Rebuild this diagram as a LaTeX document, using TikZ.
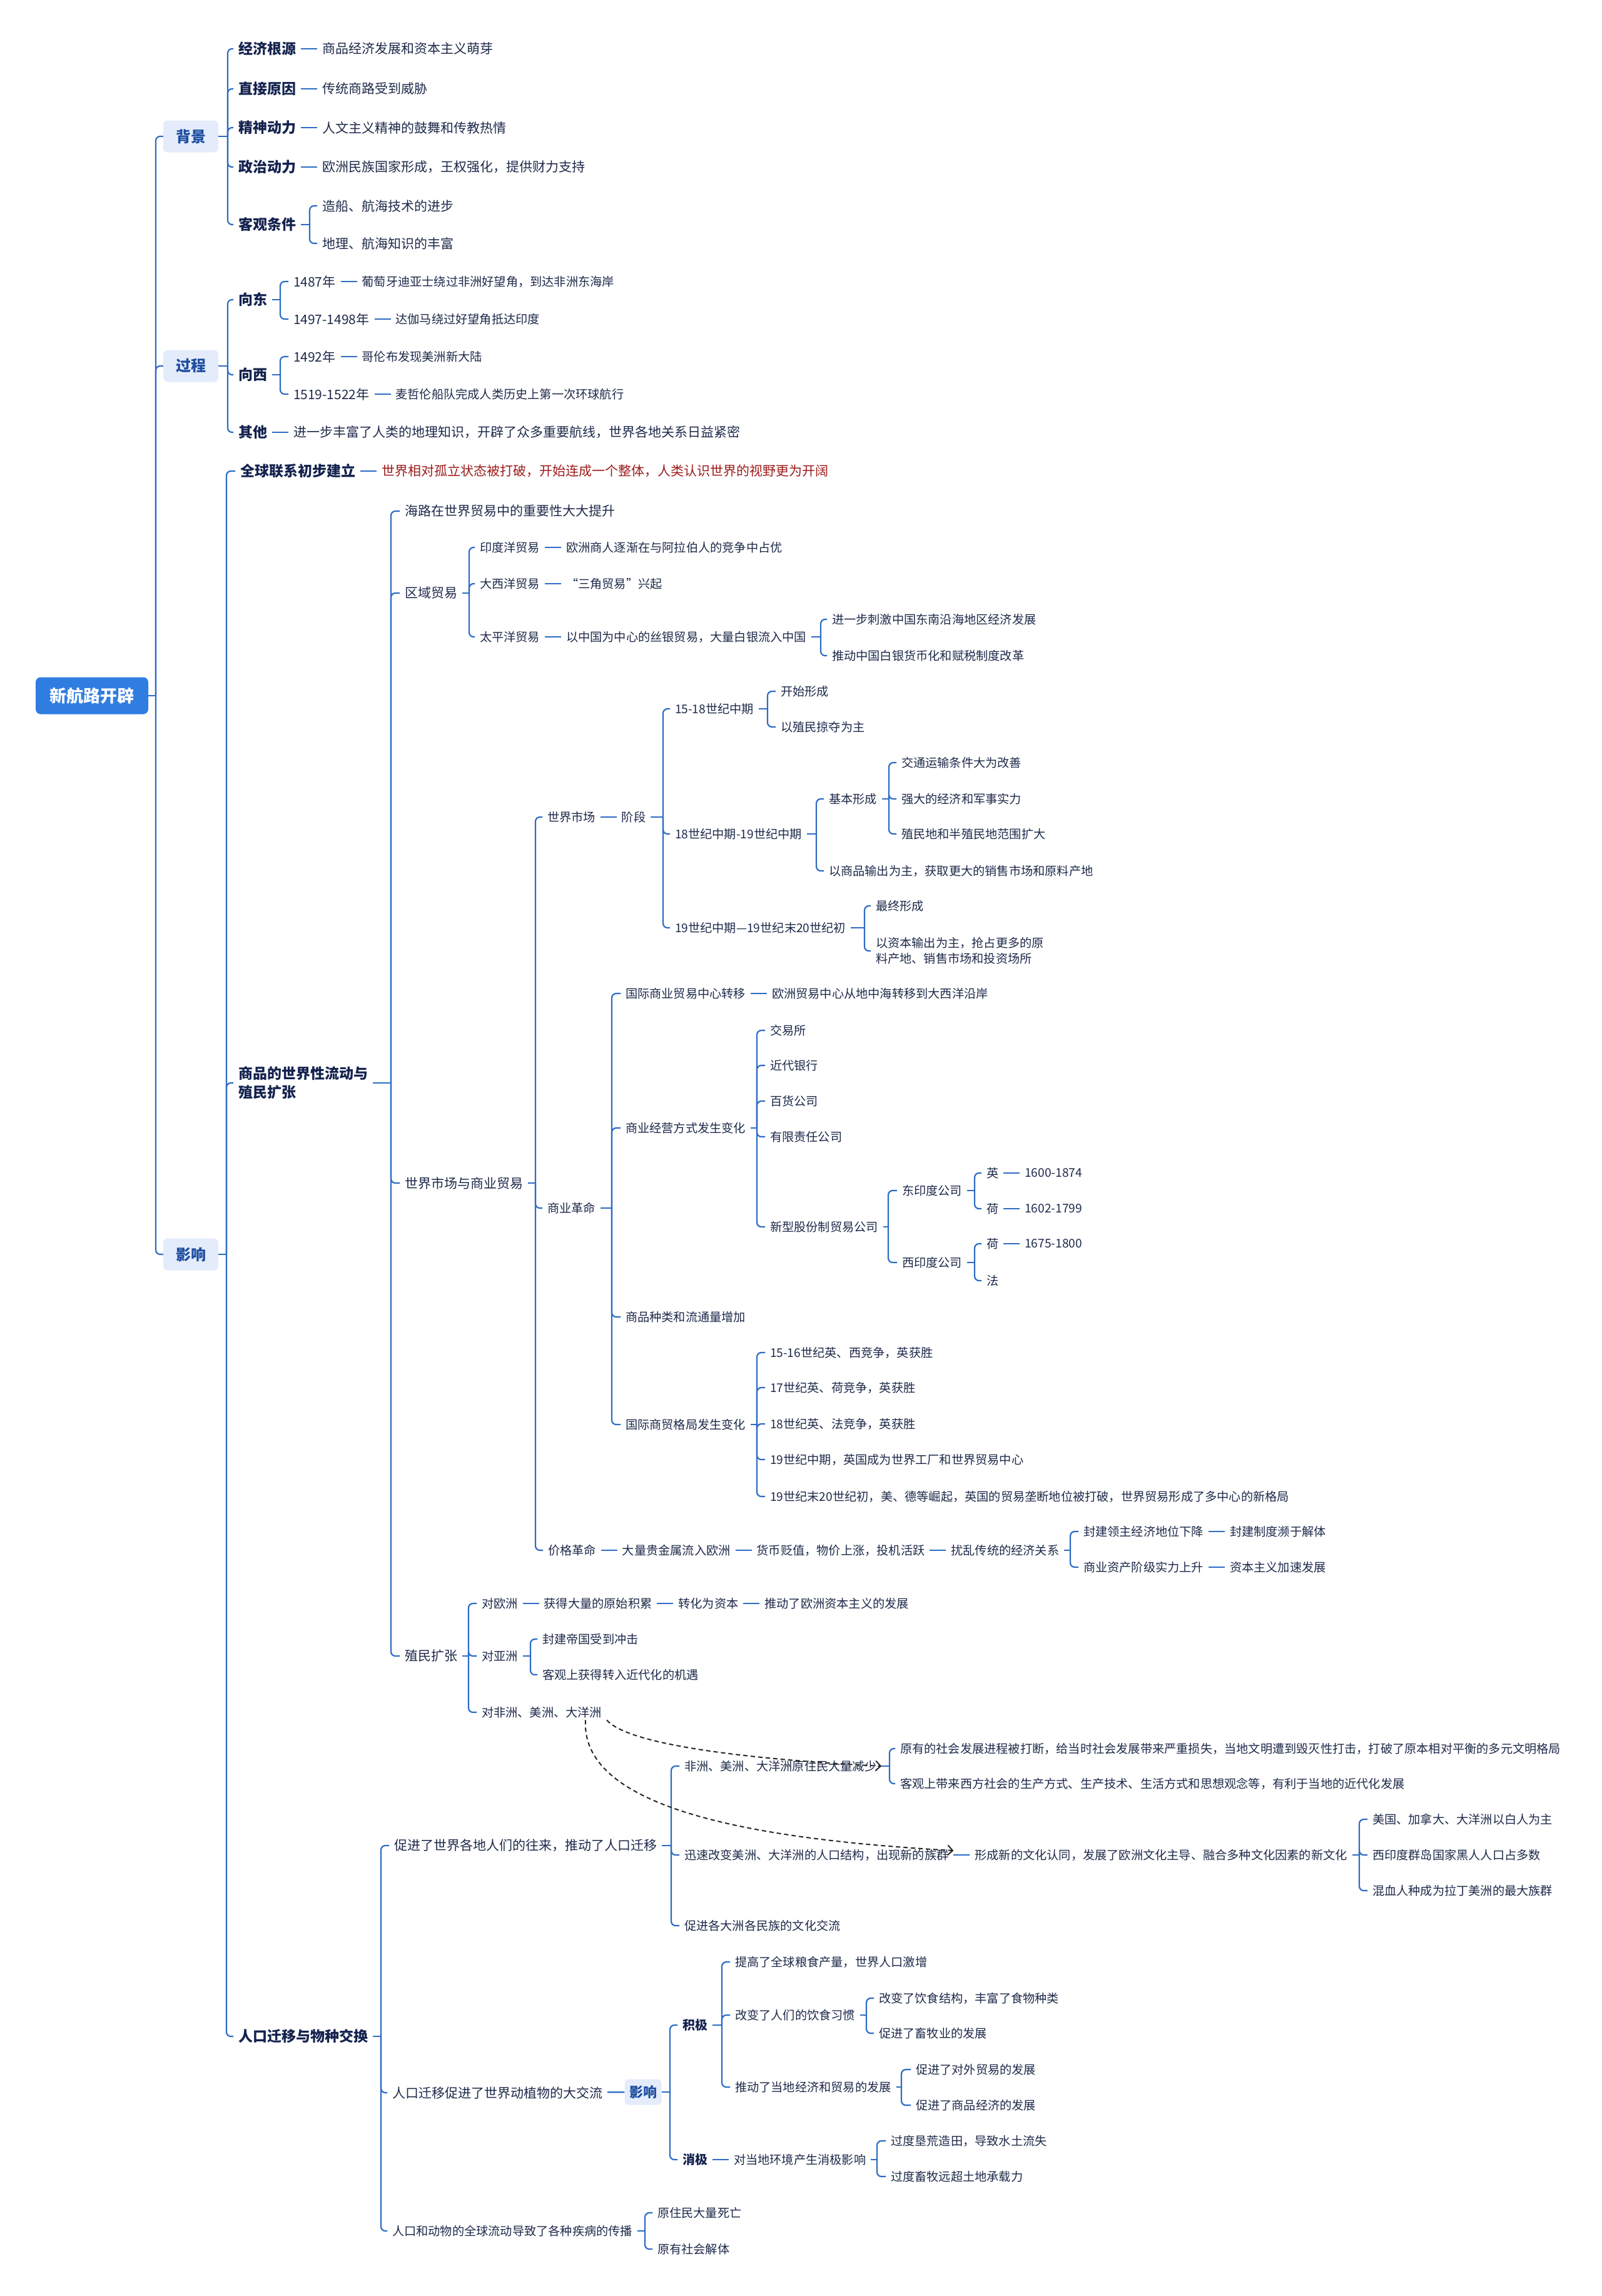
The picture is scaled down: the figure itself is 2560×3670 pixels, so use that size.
\documentclass[tikz,border=0pt]{standalone}
\usepackage{fontspec}
\setmainfont{Noto Sans CJK SC}
\usetikzlibrary{arrows.meta, positioning}
\definecolor{linkblue}{RGB}{45,108,196}
\definecolor{rootblue}{RGB}{47,125,225}
\definecolor{topicfill}{RGB}{228,236,251}
\definecolor{topictext}{RGB}{30,78,160}
\definecolor{inknavy}{RGB}{20,34,78}
\definecolor{inktext}{RGB}{30,42,74}
\definecolor{darkred}{RGB}{158,28,28}

\begin{document}
\begin{tikzpicture}[x=1pt, y=-1pt,
    root/.style={rectangle, rounded corners=8pt, fill=rootblue, text=white, font=\fontsize{27}{32}\selectfont\bfseries, minimum width=180pt, minimum height=59pt},
    topic/.style={rectangle, rounded corners=7pt, fill=topicfill, text=topictext, font=\fontsize{24}{28}\selectfont\bfseries, minimum width=88pt, minimum height=51pt},
    subtopic/.style={rectangle, rounded corners=6pt, fill=topicfill, text=topictext, font=\fontsize{22}{26}\selectfont\bfseries, minimum width=59pt, minimum height=41pt},
    major/.style={anchor=west, inner xsep=0pt, outer xsep=8pt, text=inknavy, font=\fontsize{23}{30}\selectfont\bfseries, align=left},
    pole/.style={anchor=west, inner xsep=0pt, outer xsep=8pt, text=inknavy, font=\fontsize{20}{24}\selectfont\bfseries},
    minor/.style={anchor=west, inner xsep=0pt, outer xsep=8pt, text=inktext, font=\fontsize{21}{25}\selectfont},
    leaf/.style={anchor=west, inner xsep=0pt, outer xsep=8pt, text=inktext, font=\fontsize{19.2}{25}\selectfont, align=left},
    link/.style={draw=linkblue, line width=2.2pt, rounded corners=7pt},
    crosslink/.style={dash pattern=on 7pt off 5pt, line width=2pt, draw=black!85, -{Straight Barb[length=8pt]}},
    node distance=26pt,
]
\useasboundingbox (0,0) rectangle (2560,3670);
\fill[white] (0,0) rectangle (2560,3670);

% root and first level
\node[root] (root) at (147,1112) {新航路开辟};
\node[topic] (bg) at (305,218) {背景};
\node[topic] (proc) at (305,585) {过程};
\node[topic] (eff) at (305,2005) {影响};

\coordinate (rj) at (249,1112);
\draw[link] (root) -- (rj);
\foreach \t in {bg,proc,eff} \draw[link] (rj) |- (\t.west);

% background
\node[major] (econ) at (373,78) {经济根源};
\node[minor, right=of econ] (econ1) {商品经济发展和资本主义萌芽};
\node[major] (direct) at (373,142) {直接原因};
\node[minor, right=of direct] (direct1) {传统商路受到威胁};
\node[major] (spirit) at (373,204) {精神动力};
\node[minor, right=of spirit] (spirit1) {人文主义精神的鼓舞和传教热情};
\node[major] (polit) at (373,267) {政治动力};
\node[minor, right=of polit] (polit1) {欧洲民族国家形成，王权强化，提供财力支持};
\node[major] (object) at (373,359) {客观条件};
\node[minor] (ship) at (507,329) {造船、航海技术的进步};
\node[minor] (geo) at (507,389) {地理、航海知识的丰富};

\coordinate (bgj) at (364,218);
\draw[link] (bg) -- (bgj);
\foreach \c in {econ,direct,spirit,polit,object} \draw[link] (bgj) |- (\c.west);
\foreach \a/\b in {econ/econ1,direct/direct1,spirit/spirit1,polit/polit1} \draw[link] (\a) -- (\b);
\coordinate (objj) at (495,359);
\draw[link] (object) -- (objj);
\foreach \c in {ship,geo} \draw[link] (objj) |- (\c.west);

% process
\node[major] (toeast) at (373,479) {向东};
\node[minor] (e1487) at (461,450) {1487年};
\node[leaf, right=of e1487] (e1487a) {葡萄牙迪亚士绕过非洲好望角，到达非洲东海岸};
\node[minor] (e1497) at (461,510) {1497-1498年};
\node[leaf, right=of e1497] (e1497a) {达伽马绕过好望角抵达印度};
\node[major] (towest) at (373,599) {向西};
\node[minor] (w1492) at (461,570) {1492年};
\node[leaf, right=of w1492] (w1492a) {哥伦布发现美洲新大陆};
\node[minor] (w1519) at (461,630) {1519-1522年};
\node[leaf, right=of w1519] (w1519a) {麦哲伦船队完成人类历史上第一次环球航行};
\node[major] (other) at (373,691) {其他};
\node[minor, right=of other] (other1) {进一步丰富了人类的地理知识，开辟了众多重要航线，世界各地关系日益紧密};

\coordinate (procj) at (364,585);
\draw[link] (proc) -- (procj);
\foreach \c in {toeast,towest,other} \draw[link] (procj) |- (\c.west);
\coordinate (eastj) at (448,479);
\draw[link] (toeast) -- (eastj);
\foreach \c in {e1487,e1497} \draw[link] (eastj) |- (\c.west);
\coordinate (westj) at (448,599);
\draw[link] (towest) -- (westj);
\foreach \c in {w1492,w1519} \draw[link] (westj) |- (\c.west);
\foreach \a/\b in {e1487/e1487a,e1497/e1497a,w1492/w1492a,w1519/w1519a,other/other1} \draw[link] (\a) -- (\b);

% effects
\node[major] (global) at (376,753) {全球联系初步建立};
\node[minor, text=darkred, right=of global] (global1) {世界相对孤立状态被打破，开始连成一个整体，人类认识世界的视野更为开阔};
\node[major] (goods) at (373,1731) {商品的世界性流动与\\殖民扩张};
\node[major] (migr) at (373,3255) {人口迁移与物种交换};

\coordinate (effj) at (362,2005);
\draw[link] (eff) -- (effj);
\foreach \c in {global,goods,migr} \draw[link] (effj) |- (\c.west);
\draw[link] (global) -- (global1);

% goods and colonies
\node[minor] (searoute) at (639,817) {海路在世界贸易中的重要性大大提升};
\node[minor] (region) at (639,948) {区域贸易};
\node[minor] (market) at (639,1891) {世界市场与商业贸易};
\node[minor] (colony) at (639,2647) {殖民扩张};

\coordinate (goodsj) at (625,1731);
\draw[link] (goods.east |- goodsj) -- (goodsj);
\foreach \c in {searoute,region,market,colony} \draw[link] (goodsj) |- (\c.west);

% regional trade
\node[leaf] (indian) at (759,875) {印度洋贸易};
\node[leaf, right=of indian] (indian1) {欧洲商人逐渐在与阿拉伯人的竞争中占优};
\node[leaf] (atlantic) at (759,933) {大西洋贸易};
\node[leaf, right=of atlantic] (atlantic1) {“三角贸易”兴起};
\node[leaf] (pacific) at (759,1018) {太平洋贸易};
\node[leaf, right=of pacific] (pacific1) {以中国为中心的丝银贸易，大量白银流入中国};
\node[leaf] (pacific2) at (1322,990) {进一步刺激中国东南沿海地区经济发展};
\node[leaf] (pacific3) at (1322,1048) {推动中国白银货币化和赋税制度改革};

\coordinate (regionj) at (750,948);
\draw[link] (region) -- (regionj);
\foreach \c in {indian,atlantic,pacific} \draw[link] (regionj) |- (\c.west);
\foreach \a/\b in {indian/indian1,atlantic/atlantic1,pacific/pacific1} \draw[link] (\a) -- (\b);
\coordinate (pacj) at (1312,1018);
\draw[link] (pacific1) -- (pacj);
\foreach \c in {pacific2,pacific3} \draw[link] (pacj) |- (\c.west);

% world market
\node[leaf] (wmarket) at (867,1306) {世界市场};
\node[leaf, right=of wmarket] (stage) {阶段};
\node[leaf] (st1) at (1071,1133) {15-18世纪中期};
\node[leaf] (st1a) at (1240,1105) {开始形成};
\node[leaf] (st1b) at (1240,1162) {以殖民掠夺为主};
\node[leaf] (st2) at (1071,1333) {18世纪中期-19世纪中期};
\node[leaf] (st2a) at (1317,1277) {基本形成};
\node[leaf] (st2a1) at (1433,1219) {交通运输条件大为改善};
\node[leaf] (st2a2) at (1433,1277) {强大的经济和军事实力};
\node[leaf] (st2a3) at (1433,1333) {殖民地和半殖民地范围扩大};
\node[leaf] (st2b) at (1317,1392) {以商品输出为主，获取更大的销售市场和原料产地};
\node[leaf] (st3) at (1071,1483) {19世纪中期—19世纪末20世纪初};
\node[leaf] (st3a) at (1392,1448) {最终形成};
\node[leaf] (st3b) at (1392,1520) {以资本输出为主，抢占更多的原\\料产地、销售市场和投资场所};

\coordinate (marketj) at (856,1891);
\draw[link] (market) -- (marketj);
\draw[link] (wmarket) -- (stage);
\coordinate (stagej) at (1060,1306);
\draw[link] (stage) -- (stagej);
\foreach \c in {st1,st2,st3} \draw[link] (stagej) |- (\c.west);
\coordinate (st1j) at (1227,1133);
\draw[link] (st1) -- (st1j);
\foreach \c in {st1a,st1b} \draw[link] (st1j) |- (\c.west);
\coordinate (st2j) at (1305,1333);
\draw[link] (st2) -- (st2j);
\foreach \c in {st2a,st2b} \draw[link] (st2j) |- (\c.west);
\coordinate (st2aj) at (1421,1277);
\draw[link] (st2a) -- (st2aj);
\foreach \c in {st2a1,st2a2,st2a3} \draw[link] (st2aj) |- (\c.west);
\coordinate (st3j) at (1382,1483);
\draw[link] (st3) -- (st3j);
\foreach \c in {st3a,st3b} \draw[link] (st3j) |- (\c.west);

% commercial revolution
\node[leaf] (revol) at (867,1931) {商业革命};
\node[leaf] (hubshift) at (992,1588) {国际商业贸易中心转移};
\node[leaf, right=of hubshift] (hubshift1) {欧洲贸易中心从地中海转移到大西洋沿岸};
\node[leaf] (bizmode) at (992,1803) {商业经营方式发生变化};
\node[leaf] (exch) at (1223,1647) {交易所};
\node[leaf] (bank) at (1223,1703) {近代银行};
\node[leaf] (store) at (1223,1760) {百货公司};
\node[leaf] (ltd) at (1223,1817) {有限责任公司};
\node[leaf] (jsc) at (1223,1961) {新型股份制贸易公司};
\node[leaf] (eic) at (1434,1903) {东印度公司};
\node[leaf] (eicuk) at (1569,1875) {英};
\node[leaf, right=of eicuk] (eicuk1) {1600-1874};
\node[leaf] (eicnl) at (1569,1932) {荷};
\node[leaf, right=of eicnl] (eicnl1) {1602-1799};
\node[leaf] (wic) at (1434,2018) {西印度公司};
\node[leaf] (wicnl) at (1569,1988) {荷};
\node[leaf, right=of wicnl] (wicnl1) {1675-1800};
\node[leaf] (wicfr) at (1569,2047) {法};
\node[leaf] (goodsinc) at (992,2105) {商品种类和流通量增加};
\node[leaf] (pattern) at (992,2277) {国际商贸格局发生变化};
\node[leaf] (pat1) at (1223,2162) {15-16世纪英、西竞争，英获胜};
\node[leaf] (pat2) at (1223,2218) {17世纪英、荷竞争，英获胜};
\node[leaf] (pat3) at (1223,2276) {18世纪英、法竞争，英获胜};
\node[leaf] (pat4) at (1223,2333) {19世纪中期，英国成为世界工厂和世界贸易中心};
\node[leaf] (pat5) at (1223,2392) {19世纪末20世纪初，美、德等崛起，英国的贸易垄断地位被打破，世界贸易形成了多中心的新格局};

\coordinate (revolj) at (978,1931);
\draw[link] (revol) -- (revolj);
\foreach \c in {hubshift,bizmode,goodsinc,pattern} \draw[link] (revolj) |- (\c.west);
\draw[link] (hubshift) -- (hubshift1);
\coordinate (bizj) at (1210,1803);
\draw[link] (bizmode) -- (bizj);
\foreach \c in {exch,bank,store,ltd,jsc} \draw[link] (bizj) |- (\c.west);
\coordinate (jscj) at (1420,1961);
\draw[link] (jsc) -- (jscj);
\foreach \c in {eic,wic} \draw[link] (jscj) |- (\c.west);
\coordinate (eicj) at (1558,1903);
\draw[link] (eic) -- (eicj);
\foreach \c in {eicuk,eicnl} \draw[link] (eicj) |- (\c.west);
\coordinate (wicj) at (1558,2018);
\draw[link] (wic) -- (wicj);
\foreach \c in {wicnl,wicfr} \draw[link] (wicj) |- (\c.west);
\foreach \a/\b in {eicuk/eicuk1,eicnl/eicnl1,wicnl/wicnl1} \draw[link] (\a) -- (\b);
\coordinate (patj) at (1210,2277);
\draw[link] (pattern) -- (patj);
\foreach \c in {pat1,pat2,pat3,pat4,pat5} \draw[link] (patj) |- (\c.west);

% price revolution
\node[leaf] (price) at (868,2478) {价格革命};
\node[leaf, right=of price] (price1) {大量贵金属流入欧洲};
\node[leaf, right=of price1] (price2) {货币贬值，物价上涨，投机活跃};
\node[leaf, right=of price2] (price3) {扰乱传统的经济关系};
\node[leaf] (feudal) at (1724,2448) {封建领主经济地位下降};
\node[leaf, right=of feudal] (feudal1) {封建制度濒于解体};
\node[leaf] (bourg) at (1724,2505) {商业资产阶级实力上升};
\node[leaf, right=of bourg] (bourg1) {资本主义加速发展};

\foreach \c in {wmarket,revol,price} \draw[link] (marketj) |- (\c.west);
\foreach \a/\b in {price/price1,price1/price2,price2/price3,feudal/feudal1,bourg/bourg1} \draw[link] (\a) -- (\b);
\coordinate (price3j) at (1711,2478);
\draw[link] (price3) -- (price3j);
\foreach \c in {feudal,bourg} \draw[link] (price3j) |- (\c.west);

% colonial expansion
\node[leaf] (toeu) at (762,2563) {对欧洲};
\node[leaf, right=of toeu] (toeu1) {获得大量的原始积累};
\node[leaf, right=of toeu1] (toeu2) {转化为资本};
\node[leaf, right=of toeu2] (toeu3) {推动了欧洲资本主义的发展};
\node[leaf] (toasia) at (762,2647) {对亚洲};
\node[leaf] (asia1) at (859,2620) {封建帝国受到冲击};
\node[leaf] (asia2) at (859,2677) {客观上获得转入近代化的机遇};
\node[leaf] (toafr) at (762,2737) {对非洲、美洲、大洋洲};

\coordinate (colonyj) at (749,2647);
\draw[link] (colony) -- (colonyj);
\foreach \c in {toeu,toasia,toafr} \draw[link] (colonyj) |- (\c.west);
\foreach \a/\b in {toeu/toeu1,toeu1/toeu2,toeu2/toeu3} \draw[link] (\a) -- (\b);
\coordinate (asiaj) at (848,2647);
\draw[link] (toasia) -- (asiaj);
\foreach \c in {asia1,asia2} \draw[link] (asiaj) |- (\c.west);

% migration
\node[minor] (contact) at (622,2950) {促进了世界各地人们的往来，推动了人口迁移};
\node[leaf] (native) at (1086,2823) {非洲、美洲、大洋洲原住民大量减少};
\node[leaf] (nat1) at (1431,2795) {原有的社会发展进程被打断，给当时社会发展带来严重损失，当地文明遭到毁灭性打击，打破了原本相对平衡的多元文明格局};
\node[leaf] (nat2) at (1431,2851) {客观上带来西方社会的生产方式、生产技术、生活方式和思想观念等，有利于当地的近代化发展};
\node[leaf] (ethnic) at (1086,2965) {迅速改变美洲、大洋洲的人口结构，出现新的族群};
\node[leaf, right=of ethnic] (culture) {形成新的文化认同，发展了欧洲文化主导、融合多种文化因素的新文化};
\node[leaf] (white) at (2186,2908) {美国、加拿大、大洋洲以白人为主};
\node[leaf] (black) at (2186,2965) {西印度群岛国家黑人人口占多数};
\node[leaf] (mixed) at (2186,3022) {混血人种成为拉丁美洲的最大族群};
\node[leaf] (exchange) at (1086,3078) {促进各大洲各民族的文化交流};

\coordinate (migrj) at (609,3255);
\draw[link] (migr) -- (migrj);
\coordinate (contactj) at (1073,2950);
\draw[link] (contact) -- (contactj);
\foreach \c in {native,ethnic,exchange} \draw[link] (contactj) |- (\c.west);
\coordinate (nativej) at (1422,2823);
\draw[link] (native) -- (nativej);
\foreach \c in {nat1,nat2} \draw[link] (nativej) |- (\c.west);
\draw[link] (ethnic) -- (culture);
\coordinate (culturej) at (2173,2965);
\draw[link] (culture) -- (culturej);
\foreach \c in {white,black,mixed} \draw[link] (culturej) |- (\c.west);

% dashed cross links
\draw[crosslink] (toafr.south east) .. controls (1010,2795) and (1250,2815) .. (native.east);
\draw[crosslink] ([xshift=-34pt]toafr.south east) .. controls (928,2890) and (1200,2940) .. ([yshift=7pt]ethnic.east);

% species exchange
\node[minor] (biota) at (619,3345) {人口迁移促进了世界动植物的大交流};
\node[subtopic] (impact) at (1028,3344) {影响};
\node[pole] (pos) at (1083,3237) {积极};
\node[leaf] (posa) at (1167,3136) {提高了全球粮食产量，世界人口激增};
\node[leaf] (posb) at (1167,3221) {改变了人们的饮食习惯};
\node[leaf] (posb1) at (1397,3194) {改变了饮食结构，丰富了食物种类};
\node[leaf] (posb2) at (1397,3250) {促进了畜牧业的发展};
\node[leaf] (posc) at (1167,3336) {推动了当地经济和贸易的发展};
\node[leaf] (posc1) at (1456,3308) {促进了对外贸易的发展};
\node[leaf] (posc2) at (1456,3365) {促进了商品经济的发展};
\node[pole] (neg) at (1083,3452) {消极};
\node[leaf, right=of neg] (neg1) {对当地环境产生消极影响};
\node[leaf] (neg1a) at (1416,3422) {过度垦荒造田，导致水土流失};
\node[leaf] (neg1b) at (1416,3479) {过度畜牧远超土地承载力};
\node[leaf] (disease) at (619,3566) {人口和动物的全球流动导致了各种疾病的传播};
\node[leaf] (dis1) at (1043,3537) {原住民大量死亡};
\node[leaf] (dis2) at (1043,3595) {原有社会解体};

\foreach \c in {contact,biota,disease} \draw[link] (migrj) |- (\c.west);
\draw[link] (biota) -- (impact);
\coordinate (impactj) at (1071,3344);
\draw[link] (impact) -- (impactj);
\foreach \c in {pos,neg} \draw[link] (impactj) |- (\c.west);
\coordinate (posj) at (1154,3237);
\draw[link] (pos) -- (posj);
\foreach \c in {posa,posb,posc} \draw[link] (posj) |- (\c.west);
\coordinate (posbj) at (1385,3221);
\draw[link] (posb) -- (posbj);
\foreach \c in {posb1,posb2} \draw[link] (posbj) |- (\c.west);
\coordinate (poscj) at (1441,3336);
\draw[link] (posc) -- (poscj);
\foreach \c in {posc1,posc2} \draw[link] (poscj) |- (\c.west);
\draw[link] (neg) -- (neg1);
\coordinate (neg1j) at (1402,3452);
\draw[link] (neg1) -- (neg1j);
\foreach \c in {neg1a,neg1b} \draw[link] (neg1j) |- (\c.west);
\coordinate (disj) at (1031,3566);
\draw[link] (disease) -- (disj);
\foreach \c in {dis1,dis2} \draw[link] (disj) |- (\c.west);

\end{tikzpicture}
\end{document}
